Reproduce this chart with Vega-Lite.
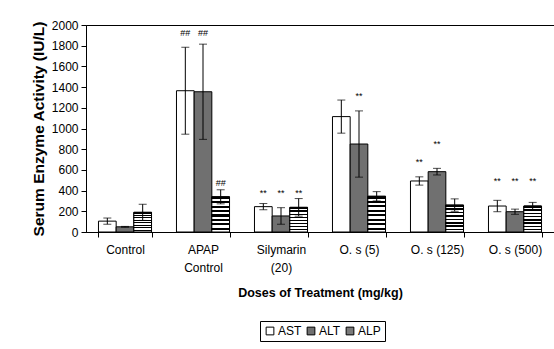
{
  "$schema": "https://vega.github.io/schema/vega-lite/v6.json",
  "width": 468,
  "height": 207,
  "autosize": {"type": "none"},
  "padding": {"left": 86, "top": 25, "right": 0, "bottom": 117},
  "background": "white",
  "config": {
    "font": "Liberation Sans",
    "view": {"stroke": "black", "strokeWidth": 1},
    "axisY": {
      "grid": false,
      "tickSize": 5,
      "labelPadding": 3,
      "labelFontSize": 12,
      "labelColor": "black",
      "titleFontSize": 15.5,
      "titleFontWeight": "bold",
      "titleColor": "black",
      "titlePadding": 5,
      "domainColor": "black",
      "tickColor": "black",
      "format": "d"
    },
    "axisX": {
      "labelAngle": 0,
      "tickBand": "extent",
      "tickSize": 5,
      "labelPadding": 7,
      "labelFontSize": 12,
      "labelLineHeight": 18,
      "labelColor": "black",
      "titleFontSize": 12.5,
      "titleFontWeight": "bold",
      "titleColor": "black",
      "titlePadding": 13,
      "domainColor": "black",
      "tickColor": "black"
    }
  },
  "datasets": {
    "bars": [
      {"group": "Control", "enzyme": "AST", "mean": 105, "sd": 30},
      {"group": "Control", "enzyme": "ALT", "mean": 50, "sd": 4},
      {"group": "Control", "enzyme": "ALP", "mean": 190, "sd": 78},
      {"group": "APAP Control", "enzyme": "AST", "mean": 1365, "sd": 420},
      {"group": "APAP Control", "enzyme": "ALT", "mean": 1355, "sd": 460},
      {"group": "APAP Control", "enzyme": "ALP", "mean": 340, "sd": 68},
      {"group": "Silymarin (20)", "enzyme": "AST", "mean": 245, "sd": 30},
      {"group": "Silymarin (20)", "enzyme": "ALT", "mean": 155, "sd": 80},
      {"group": "Silymarin (20)", "enzyme": "ALP", "mean": 238, "sd": 85},
      {"group": "O. s (5)", "enzyme": "AST", "mean": 1115, "sd": 160},
      {"group": "O. s (5)", "enzyme": "ALT", "mean": 850, "sd": 320},
      {"group": "O. s (5)", "enzyme": "ALP", "mean": 345, "sd": 45},
      {"group": "O. s (125)", "enzyme": "AST", "mean": 493, "sd": 40},
      {"group": "O. s (125)", "enzyme": "ALT", "mean": 583, "sd": 32},
      {"group": "O. s (125)", "enzyme": "ALP", "mean": 260, "sd": 60},
      {"group": "O. s (500)", "enzyme": "AST", "mean": 251, "sd": 55},
      {"group": "O. s (500)", "enzyme": "ALT", "mean": 196, "sd": 25},
      {"group": "O. s (500)", "enzyme": "ALP", "mean": 251, "sd": 35}
    ],
    "notes": [
      {"group": "APAP Control", "enzyme": "AST", "mark": "##", "level": 1923},
      {"group": "APAP Control", "enzyme": "ALT", "mark": "##", "level": 1923},
      {"group": "APAP Control", "enzyme": "ALP", "mark": "##", "level": 476},
      {"group": "Silymarin (20)", "enzyme": "AST", "mark": "**", "level": 377},
      {"group": "Silymarin (20)", "enzyme": "ALT", "mark": "**", "level": 377},
      {"group": "Silymarin (20)", "enzyme": "ALP", "mark": "**", "level": 377},
      {"group": "O. s (5)", "enzyme": "ALT", "mark": "**", "level": 1314},
      {"group": "O. s (125)", "enzyme": "AST", "mark": "**", "level": 676},
      {"group": "O. s (125)", "enzyme": "ALT", "mark": "**", "level": 850},
      {"group": "O. s (500)", "enzyme": "AST", "mark": "**", "level": 496},
      {"group": "O. s (500)", "enzyme": "ALT", "mark": "**", "level": 496},
      {"group": "O. s (500)", "enzyme": "ALP", "mark": "**", "level": 496}
    ]
  },
  "layer": [
    {
      "data": {"name": "bars"},
      "mark": {"type": "bar", "stroke": "black", "strokeWidth": 1},
      "encoding": {
        "x": {
          "field": "group", "type": "nominal",
          "sort": ["Control", "APAP Control", "Silymarin (20)", "O. s (5)", "O. s (125)", "O. s (500)"],
          "scale": {"paddingInner": 0.32, "paddingOuter": 0.16},
          "title": "Doses of Treatment (mg/kg)",
          "axis": {
            "labelExpr": "datum.label == 'APAP Control' ? ['APAP', 'Control'] : datum.label == 'Silymarin (20)' ? ['Silymarin', '(20)'] : datum.label"
          }
        },
        "xOffset": {"field": "enzyme", "type": "nominal", "sort": ["AST", "ALT", "ALP"], "scale": {"paddingInner": 0, "paddingOuter": 0}},
        "y": {
          "field": "mean", "type": "quantitative",
          "scale": {"domain": [0, 2000], "nice": false},
          "title": "Serum Enzyme Activity (IU/L)",
          "axis": {"values": [0, 200, 400, 600, 800, 1000, 1200, 1400, 1600, 1800, 2000]}
        },
        "color": {
          "field": "enzyme", "type": "nominal",
          "sort": ["AST", "ALT", "ALP"],
          "scale": {"domain": ["AST", "ALT", "ALP"], "range": ["#ffffff", "#707070", "#7a7a7a"]},
          "legend": {
            "orient": "none",
            "legendX": 174,
            "legendY": 296,
            "direction": "horizontal",
            "title": null,
            "strokeColor": "black",
            "padding": 4,
            "symbolType": "square",
            "symbolSize": 60,
            "symbolStrokeColor": "black",
            "symbolStrokeWidth": 1,
            "symbolOpacity": 1,
            "labelFontSize": 12,
            "labelColor": "black",
            "labelOffset": 2,
            "columnPadding": 3
          }
        }
      }
    },
    {
      "data": {"name": "bars"},
      "transform": [{"filter": "datum.enzyme === 'ALP'"}],
      "mark": {
        "type": "bar",
        "stroke": "black",
        "strokeWidth": 1,
        "fill": {
          "gradient": "linear",
          "x1": 0, "y1": 0, "x2": 0, "y2": 1,
          "stops": [
            {"offset": 0, "color": "black"}, {"offset": 0.0625, "color": "black"},
            {"offset": 0.0625, "color": "white"}, {"offset": 0.125, "color": "white"},
            {"offset": 0.125, "color": "black"}, {"offset": 0.1875, "color": "black"},
            {"offset": 0.1875, "color": "white"}, {"offset": 0.25, "color": "white"},
            {"offset": 0.25, "color": "black"}, {"offset": 0.3125, "color": "black"},
            {"offset": 0.3125, "color": "white"}, {"offset": 0.375, "color": "white"},
            {"offset": 0.375, "color": "black"}, {"offset": 0.4375, "color": "black"},
            {"offset": 0.4375, "color": "white"}, {"offset": 0.5, "color": "white"},
            {"offset": 0.5, "color": "black"}, {"offset": 0.5625, "color": "black"},
            {"offset": 0.5625, "color": "white"}, {"offset": 0.625, "color": "white"},
            {"offset": 0.625, "color": "black"}, {"offset": 0.6875, "color": "black"},
            {"offset": 0.6875, "color": "white"}, {"offset": 0.75, "color": "white"},
            {"offset": 0.75, "color": "black"}, {"offset": 0.8125, "color": "black"},
            {"offset": 0.8125, "color": "white"}, {"offset": 0.875, "color": "white"},
            {"offset": 0.875, "color": "black"}, {"offset": 0.9375, "color": "black"},
            {"offset": 0.9375, "color": "white"}, {"offset": 1, "color": "white"}
          ]
        }
      },
      "encoding": {
        "x": {"field": "group", "type": "nominal", "sort": ["Control", "APAP Control", "Silymarin (20)", "O. s (5)", "O. s (125)", "O. s (500)"], "title": "Doses of Treatment (mg/kg)"},
        "xOffset": {"field": "enzyme", "type": "nominal", "sort": ["AST", "ALT", "ALP"]},
        "y": {"field": "mean", "type": "quantitative", "title": "Serum Enzyme Activity (IU/L)", "axis": {"values": [0, 200, 400, 600, 800, 1000, 1200, 1400, 1600, 1800, 2000]}}
      }
    },
    {
      "data": {"name": "bars"},
      "mark": {"type": "errorbar", "ticks": {"size": 8}, "color": "black"},
      "encoding": {
        "x": {"field": "group", "type": "nominal", "sort": ["Control", "APAP Control", "Silymarin (20)", "O. s (5)", "O. s (125)", "O. s (500)"], "title": "Doses of Treatment (mg/kg)"},
        "xOffset": {"field": "enzyme", "type": "nominal", "sort": ["AST", "ALT", "ALP"]},
        "y": {"field": "mean", "type": "quantitative", "title": "Serum Enzyme Activity (IU/L)", "axis": {"values": [0, 200, 400, 600, 800, 1000, 1200, 1400, 1600, 1800, 2000]}},
        "yError": {"field": "sd"}
      }
    },
    {
      "data": {"name": "notes"},
      "mark": {"type": "text", "fontSize": 9, "color": "black", "baseline": "middle", "font": "Liberation Sans"},
      "encoding": {
        "x": {"field": "group", "type": "nominal", "sort": ["Control", "APAP Control", "Silymarin (20)", "O. s (5)", "O. s (125)", "O. s (500)"], "title": "Doses of Treatment (mg/kg)"},
        "xOffset": {"field": "enzyme", "type": "nominal", "sort": ["AST", "ALT", "ALP"]},
        "y": {"field": "level", "type": "quantitative", "title": "Serum Enzyme Activity (IU/L)", "axis": {"values": [0, 200, 400, 600, 800, 1000, 1200, 1400, 1600, 1800, 2000]}},
        "text": {"field": "mark"}
      }
    }
  ]
}
